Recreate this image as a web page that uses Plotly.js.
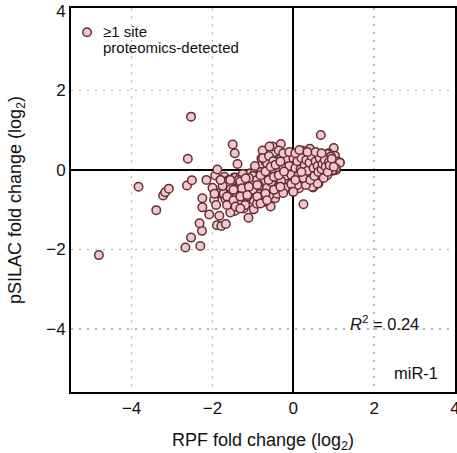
<!DOCTYPE html>
<html>
<head>
<meta charset="utf-8">
<script src="https://cdn.plot.ly/plotly-3.0.1.min.js"></script>
<style>html,body{margin:0;padding:0;background:#fff;}#chart{width:457px;height:453px;}</style>
</head>
<body>
<div id="chart"></div>
<script>
// RPF fold change (log2)
const rpf = [
-4.81,-3.83,-3.39,-3.22,-3.17,-3.08,-2.61,-2.63,-2.51,-2.67,-2.53,-2.30,-2.26,-2.32,-2.25,-2.25,-2.15,-2.08,-1.96,-1.93,
-1.88,-1.91,-1.83,-1.89,-1.78,-1.67,-1.74,-1.81,-1.70,-1.58,-1.68,-1.62,-1.53,-1.45,-1.50,-1.38,-1.54,-1.45,-1.43,-1.39,
-1.47,-2.53,-0.76,-0.51,-0.31,-0.36,-0.79,0.68,1.00,1.03,1.15,1.06,0.98,0.87,0.25,0.62,0.49,0.41,0.28,0.26,
0.13,-0.07,-1.11,-0.98,-0.56,-0.45,-1.56,-0.59,-1.60,-1.43,-1.31,-1.19,-1.06,-0.94,-0.85,-0.77,-0.69,-0.65,-0.81,-1.02,
-1.14,-1.27,-1.39,-1.52,-0.94,-0.73,-0.61,-0.56,0.24,-0.07,0.06,0.18,0.35,0.51,0.68,0.84,0.93,1.09,1.15,1.05,
0.97,0.80,0.64,0.47,0.31,0.14,-0.02,-0.19,-0.36,-0.52,-0.65,-0.61,-0.44,-0.27,-0.11,0.06,0.22,0.39,0.55,0.72,
0.84,-0.52,-0.36,-0.19,-0.02,0.14,0.31,0.47,0.60,-0.36,-0.11,0.14,-1.81,-1.70,-0.85,-0.73,-1.23,-1.43,-1.56,-1.72,
-1.39,-1.64,-1.06,-0.89,-0.73,-0.56,-0.36,-0.98,-1.14,-1.31,-1.48,-1.64,-1.06,-0.81,-0.48,-0.32,-0.15,0.10,0.31,-1.2,
-1.0,-0.9,-0.8,-0.7,-0.6,-0.5,-0.45,-0.4,-0.35,-0.3,-0.25,-0.2,-0.15,-0.1,-0.05,0.0,0.05,0.1,0.12,0.18,
0.2,0.25,0.28,0.32,0.35,0.4,0.42,0.45,0.5,0.52,0.55,0.6,0.62,0.65,0.7,0.72,0.75,0.78,0.8,0.85,
0.88,0.9,0.95,1.0,-0.95,-1.1,-1.25,-1.35,-1.55,-1.65,-1.75,-1.3,-1.15,-1.0,-0.85,-0.65,-0.55,-0.3,-0.2,-0.05,
0.05,0.2,-0.75,-0.6,-0.5,-0.25,-0.1,0.05,0.15,0.35,0.55,0.7,-0.4,-0.6,-0.25,0.0,-0.9,-0.7,-1.3,-1.45,
-1.6,-1.8,-2.0,-1.95,-1.56,-1.31,-1.18,-0.81,-0.69,-0.56,-0.44,-0.32,-1.48,-1.27,-1.10,-0.89,-0.61,-0.48,-0.36,-0.23,
-1.64,-1.48,-1.31,-1.14,-0.89,-0.69,-0.48,-0.32,-0.81,-1.19,-1.43,-1.31,-0.65
];
// pSILAC fold change (log2)
const psilac = [
-2.14,-0.42,-1.01,-0.64,-0.56,-0.47,0.28,-0.39,-0.26,-1.95,-1.70,-1.91,-1.53,-1.34,-0.71,-0.94,-0.25,-1.12,-0.75,-0.14,
0.01,-0.88,-1.15,-1.39,-1.41,-1.36,-0.38,-0.59,-0.17,-0.55,-0.73,-0.86,-1.03,0.42,0.64,0.15,-0.28,-1.03,-0.71,-0.92,
-0.19,1.34,0.49,0.59,0.65,0.49,0.29,0.88,0.55,0.36,0.19,0.00,-0.02,0.42,-0.86,-0.34,-0.44,0.53,0.45,0.29,
0.35,0.35,-1.20,-0.99,-0.92,-0.71,-1.07,0.59,-0.25,-0.19,-0.17,-0.13,-0.08,-0.03,0.04,0.13,0.21,0.00,-0.21,-0.25,
-0.29,-0.34,-0.34,-0.34,-0.38,-0.34,-0.17,0.29,0.48,0.38,0.34,0.36,0.31,0.34,0.36,0.40,0.34,0.21,0.18,0.04,
0.00,0.21,0.21,0.17,0.13,0.17,0.21,0.17,0.13,0.13,0.17,-0.04,-0.08,-0.04,-0.04,-0.06,-0.08,-0.11,-0.08,-0.11,
-0.13,-0.25,-0.25,-0.28,-0.25,-0.29,-0.34,-0.42,-0.34,-0.42,-0.45,-0.46,-0.57,-0.50,-0.77,-0.63,-0.97,-0.88,-0.71,-0.59,
-0.71,-0.88,-0.59,-0.50,-0.42,-0.50,-0.55,-0.76,-0.67,-0.42,-0.46,-0.38,-0.34,-0.34,-0.34,-0.38,-0.34,-0.38,-0.38,-0.45,
-0.15,-0.25,-0.05,-0.28,-0.1,0.02,-0.2,0.25,-0.05,0.3,0.05,-0.15,0.28,0.1,-0.12,0.3,0.05,0.22,-0.15,0.02,
0.3,-0.2,0.12,0.25,-0.02,0.18,-0.25,0.35,0.05,-0.15,0.22,0.1,-0.05,0.3,0.02,0.15,-0.2,0.25,0.08,-0.05,
0.2,0.12,0.28,0.08,0.1,-0.2,-0.1,-0.25,-0.45,-0.3,-0.4,-0.55,-0.6,-0.5,-0.4,-0.45,-0.3,-0.28,-0.45,-0.35,
-0.25,-0.05,0.3,0.35,0.22,0.42,0.45,0.42,0.5,0.45,0.45,0.42,-0.6,-0.65,-0.58,-0.55,-0.85,-0.8,-0.8,-0.6,
-0.65,-0.25,-0.45,-0.6,-0.25,-0.29,-0.21,-0.13,-0.04,0.08,0.13,0.21,-0.50,-0.46,-0.42,-0.38,-0.25,-0.17,-0.13,-0.04,
-0.67,-0.76,-0.67,-0.63,-0.67,-0.59,-0.50,-0.42,-0.84,-0.88,-0.92,-0.97,-0.76
];
const xTicks = [-4, -2, 0, 2, 4];
const yTicks = [-4, -2, 0, 2, 4];
const gridVals = [-4, -2, 2];
const legendLines = ["≥1 site", "proteomics-detected"];
const r2Text = "<i>R</i><sup>2</sup> = 0.24";
const mirText = "miR-1";

const FONT = "Liberation Sans, Arial, sans-serif";
const PINK = "#f4c6cf", BROWN = "#633030";
const fmt = v => v < 0 ? "\u2212" + Math.abs(v) : String(v);

const trace = {
  x: rpf, y: psilac, type: "scatter", mode: "markers", name: legendLines.join(" "),
  marker: {size: 8.5, color: PINK, line: {color: BROWN, width: 1.5}},
  showlegend: false, hoverinfo: "skip"
};
const axisCommon = {
  showline: true, linecolor: "#000", linewidth: 2, mirror: true,
  showgrid: false,
  zeroline: true, zerolinecolor: "#000", zerolinewidth: 2,
  ticks: "", tickfont: {family: FONT, size: 17, color: "#111"},
  tickmode: "array", ticklabeloverflow: "allow",
  minor: {tickmode: "array", tickvals: gridVals, showgrid: true, gridcolor: "#b8b8b8", griddash: "2px,6px", gridwidth: 1.5, ticks: ""}
};
const layout = {
  width: 457, height: 453,
  margin: {l: 71, r: 2, t: 8, b: 61},
  paper_bgcolor: "#fff", plot_bgcolor: "#fff",
  font: {family: FONT, color: "#111"},
  showlegend: false,
  xaxis: Object.assign({}, axisCommon, {
    range: [-5.5, 4.0], tickvals: xTicks, ticktext: xTicks.map(fmt),
    title: {text: "RPF fold change (log<sub>2</sub>)", font: {family: FONT, size: 18, color: "#111"}, standoff: 16}
  }),
  yaxis: Object.assign({}, axisCommon, {
    range: [-5.58, 4.07], tickvals: yTicks, ticktext: yTicks.map(fmt),
    title: {text: "pSILAC fold change (log<sub>2</sub>)", font: {family: FONT, size: 18, color: "#111"}, standoff: 20}
  }),
  shapes: [
    {type: "circle", xref: "paper", yref: "paper", xsizemode: "pixel", ysizemode: "pixel",
     xanchor: 0.0417, yanchor: 0.937, x0: -4.25, x1: 4.25, y0: -4.25, y1: 4.25,
     fillcolor: PINK, line: {color: BROWN, width: 1.5}}
  ],
  annotations: [
    {xref: "paper", yref: "paper", x: 0.078, y: 0.938, xanchor: "left", yanchor: "middle",
     text: legendLines[0], showarrow: false, font: {family: FONT, size: 15, color: "#111"}},
    {xref: "paper", yref: "paper", x: 0.078, y: 0.897, xanchor: "left", yanchor: "middle",
     text: legendLines[1], showarrow: false, font: {family: FONT, size: 15, color: "#111"}},
    {xref: "paper", yref: "paper", x: 0.911, y: 0.18, xanchor: "right", yanchor: "middle",
     text: r2Text, showarrow: false, font: {family: FONT, size: 16.5, color: "#111"}},
    {xref: "paper", yref: "paper", x: 0.96, y: 0.05, xanchor: "right", yanchor: "middle",
     text: mirText, showarrow: false, font: {family: FONT, size: 16.5, color: "#111"}}
  ]
};
Plotly.newPlot("chart", [trace], layout, {displayModeBar: false, staticPlot: true});
</script>
</body>
</html>
